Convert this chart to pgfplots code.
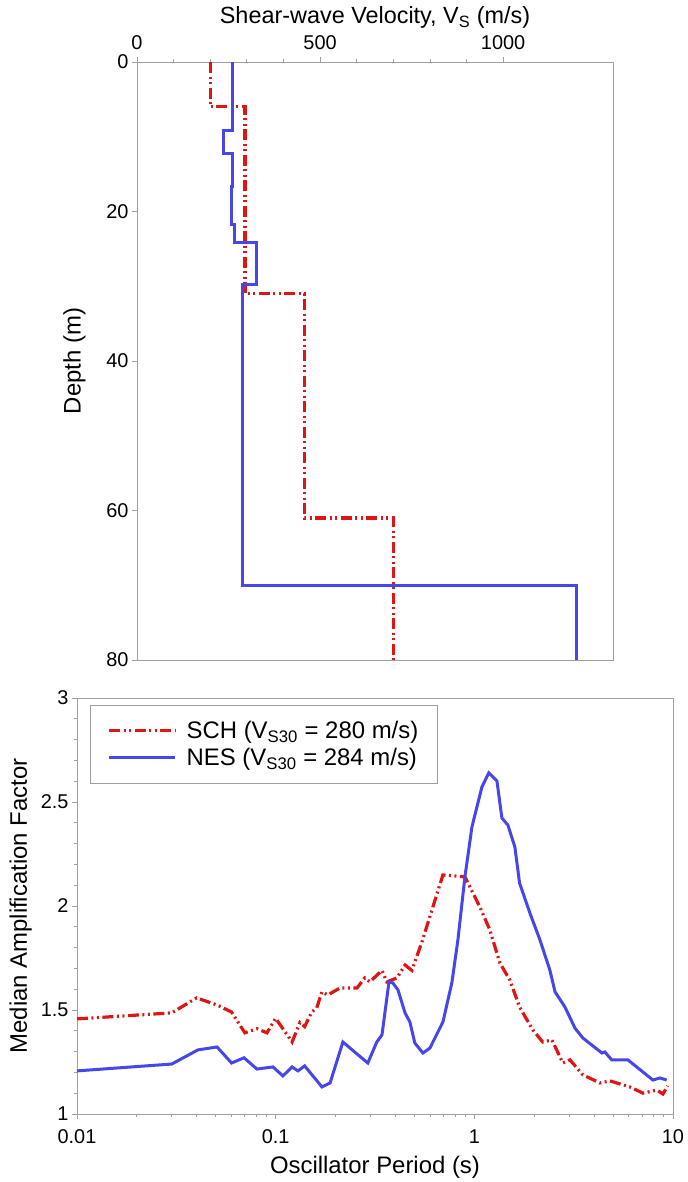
\documentclass[border=0pt]{standalone}
\usepackage{fontspec}
\setmainfont{Liberation Sans}
\usepackage{pgfplots}
\pgfplotsset{compat=1.18}
\definecolor{sred}{RGB}{225,20,20}
\definecolor{nblue}{RGB}{70,70,235}
\definecolor{axgray}{RGB}{160,160,160}
\tikzset{sch/.style={sred, line width=3.2bp, dash pattern=on 11bp off 3.5bp on 2bp off 3.5bp on 2bp off 3.5bp}}
\tikzset{nes/.style={nblue, line width=3bp}}
\pgfplotsset{
  common/.style={
    scale only axis,
    tick align=outside,
    major tick length=5bp, minor tick length=3bp,
    axis line style={axgray, line width=0.8bp},
    every tick/.style={axgray, line width=0.8bp},
    tick label style={font=\fontsize{20}{24}\selectfont},
    label style={font=\fontsize{24}{28}\selectfont},
    /pgf/number format/assume math mode=true,
    /pgf/number format/1000 sep={},
    scaled ticks=false,
  }
}
\begin{document}
\begin{tikzpicture}
\path (0bp,0bp) rectangle (685bp,-1182bp);
\begin{axis}[common,
  at={(137bp,-62bp)}, anchor=north west,
  width=476bp, height=598bp,
  xmin=0, xmax=1300, ymin=0, ymax=80, y dir=reverse,
  xtick={0,500,1000}, minor x tick num=4,
  ytick={0,20,40,60,80},
  xtick pos=upper, xticklabel pos=upper, ytick pos=left,
  xticklabel style={yshift=4bp},
  xlabel={Shear-wave Velocity, V\textsubscript{S} (m/s)},
  xlabel style={font=\fontsize{23.5}{28}\selectfont},
  ylabel={Depth (m)},
  ylabel shift=14bp,
]
\addplot[sch] coordinates {(200,0) (200,6) (295,6) (295,31) (458,31) (458,61) (700,61) (700,80)};
\addplot[nes] coordinates {(262,0) (262,9.2) (237,9.2) (237,12.2) (262,12.2) (262,16.7) (259,16.7) (259,21.8) (266,21.8) (266,24.2) (327,24.2) (327,29.8) (287,29.8) (287,70) (1200,70) (1200,80)};
\end{axis}
\begin{axis}[common,
  at={(77bp,-698bp)}, anchor=north west,
  width=596bp, height=416bp,
  xmode=log, xmin=0.01, xmax=10, ymin=1, ymax=3,
  xtick={0.01,0.1,1,10}, xticklabels={0.01,0.1,1,10},
  ytick={1,1.5,2,2.5,3}, minor y tick num=4,
  xtick pos=lower, ytick pos=left,
  xticklabel style={yshift=-7bp},
  xlabel={Oscillator Period (s)},
  xlabel shift=6bp,
  ylabel={Median Amplification Factor},
  ylabel shift=2bp,
  legend cell align=left,
  legend style={at={(0.022,0.983)}, anchor=north west, draw=axgray, line width=0.8bp,
    font=\fontsize{24}{28}\selectfont, inner xsep=17bp, inner ysep=14bp, row sep=4bp,
    /tikz/every odd column/.append style={column sep=8bp}},
  legend image code/.code={\draw[#1] (0bp,0bp) -- (66bp,0bp);},
]
\addplot[sch] coordinates {
(0.01,1.457) (0.030,1.486) (0.040,1.558) (0.0507,1.524) (0.060,1.49) (0.070,1.39)
(0.0805,1.41) (0.0904,1.39) (0.100,1.46) (0.121,1.346) (0.1325,1.44) (0.140,1.42)
(0.152,1.49) (0.161,1.51) (0.171,1.587) (0.183,1.572) (0.211,1.606) (0.257,1.606)
(0.281,1.654) (0.298,1.635) (0.343,1.69) (0.363,1.635) (0.408,1.654) (0.448,1.716)
(0.485,1.69) (0.545,1.827) (0.695,2.149) (0.897,2.14) (1.067,1.995) (1.197,1.885)
(1.345,1.726) (1.51,1.644) (1.69,1.514) (1.97,1.404) (2.21,1.346) (2.46,1.356)
(2.79,1.245) (3.03,1.26) (3.52,1.188) (4.29,1.149) (4.81,1.159) (6.07,1.13)
(7.06,1.10) (8.3,1.115) (8.9,1.096) (9.42,1.135)};
\addlegendentry{SCH (V\textsubscript{S30} = 280 m/s)}
\addplot[nes] coordinates {
(0.01,1.207) (0.030,1.24) (0.0406,1.308) (0.0507,1.322) (0.060,1.245) (0.0693,1.27)
(0.0805,1.216) (0.0969,1.226) (0.1088,1.183) (0.121,1.226) (0.1295,1.207) (0.140,1.231)
(0.171,1.13) (0.188,1.149) (0.218,1.346) (0.26,1.284) (0.291,1.245) (0.323,1.346)
(0.343,1.38) (0.372,1.635) (0.389,1.63) (0.413,1.596) (0.448,1.486) (0.474,1.442)
(0.502,1.341) (0.551,1.293) (0.598,1.317) (0.695,1.442) (0.771,1.63) (0.827,1.837)
(0.897,2.14) (0.973,2.38) (1.092,2.572) (1.183,2.64) (1.30,2.601) (1.377,2.423)
(1.476,2.389) (1.60,2.284) (1.69,2.11) (1.905,1.966) (2.14,1.837) (2.40,1.692)
(2.55,1.587) (2.86,1.514) (3.21,1.413) (3.52,1.365) (4.39,1.293) (4.54,1.298)
(4.92,1.26) (5.93,1.26) (7.93,1.163) (8.59,1.173) (9.3,1.163)};
\addlegendentry{NES (V\textsubscript{S30} = 284 m/s)}
\end{axis}
\end{tikzpicture}
\end{document}
